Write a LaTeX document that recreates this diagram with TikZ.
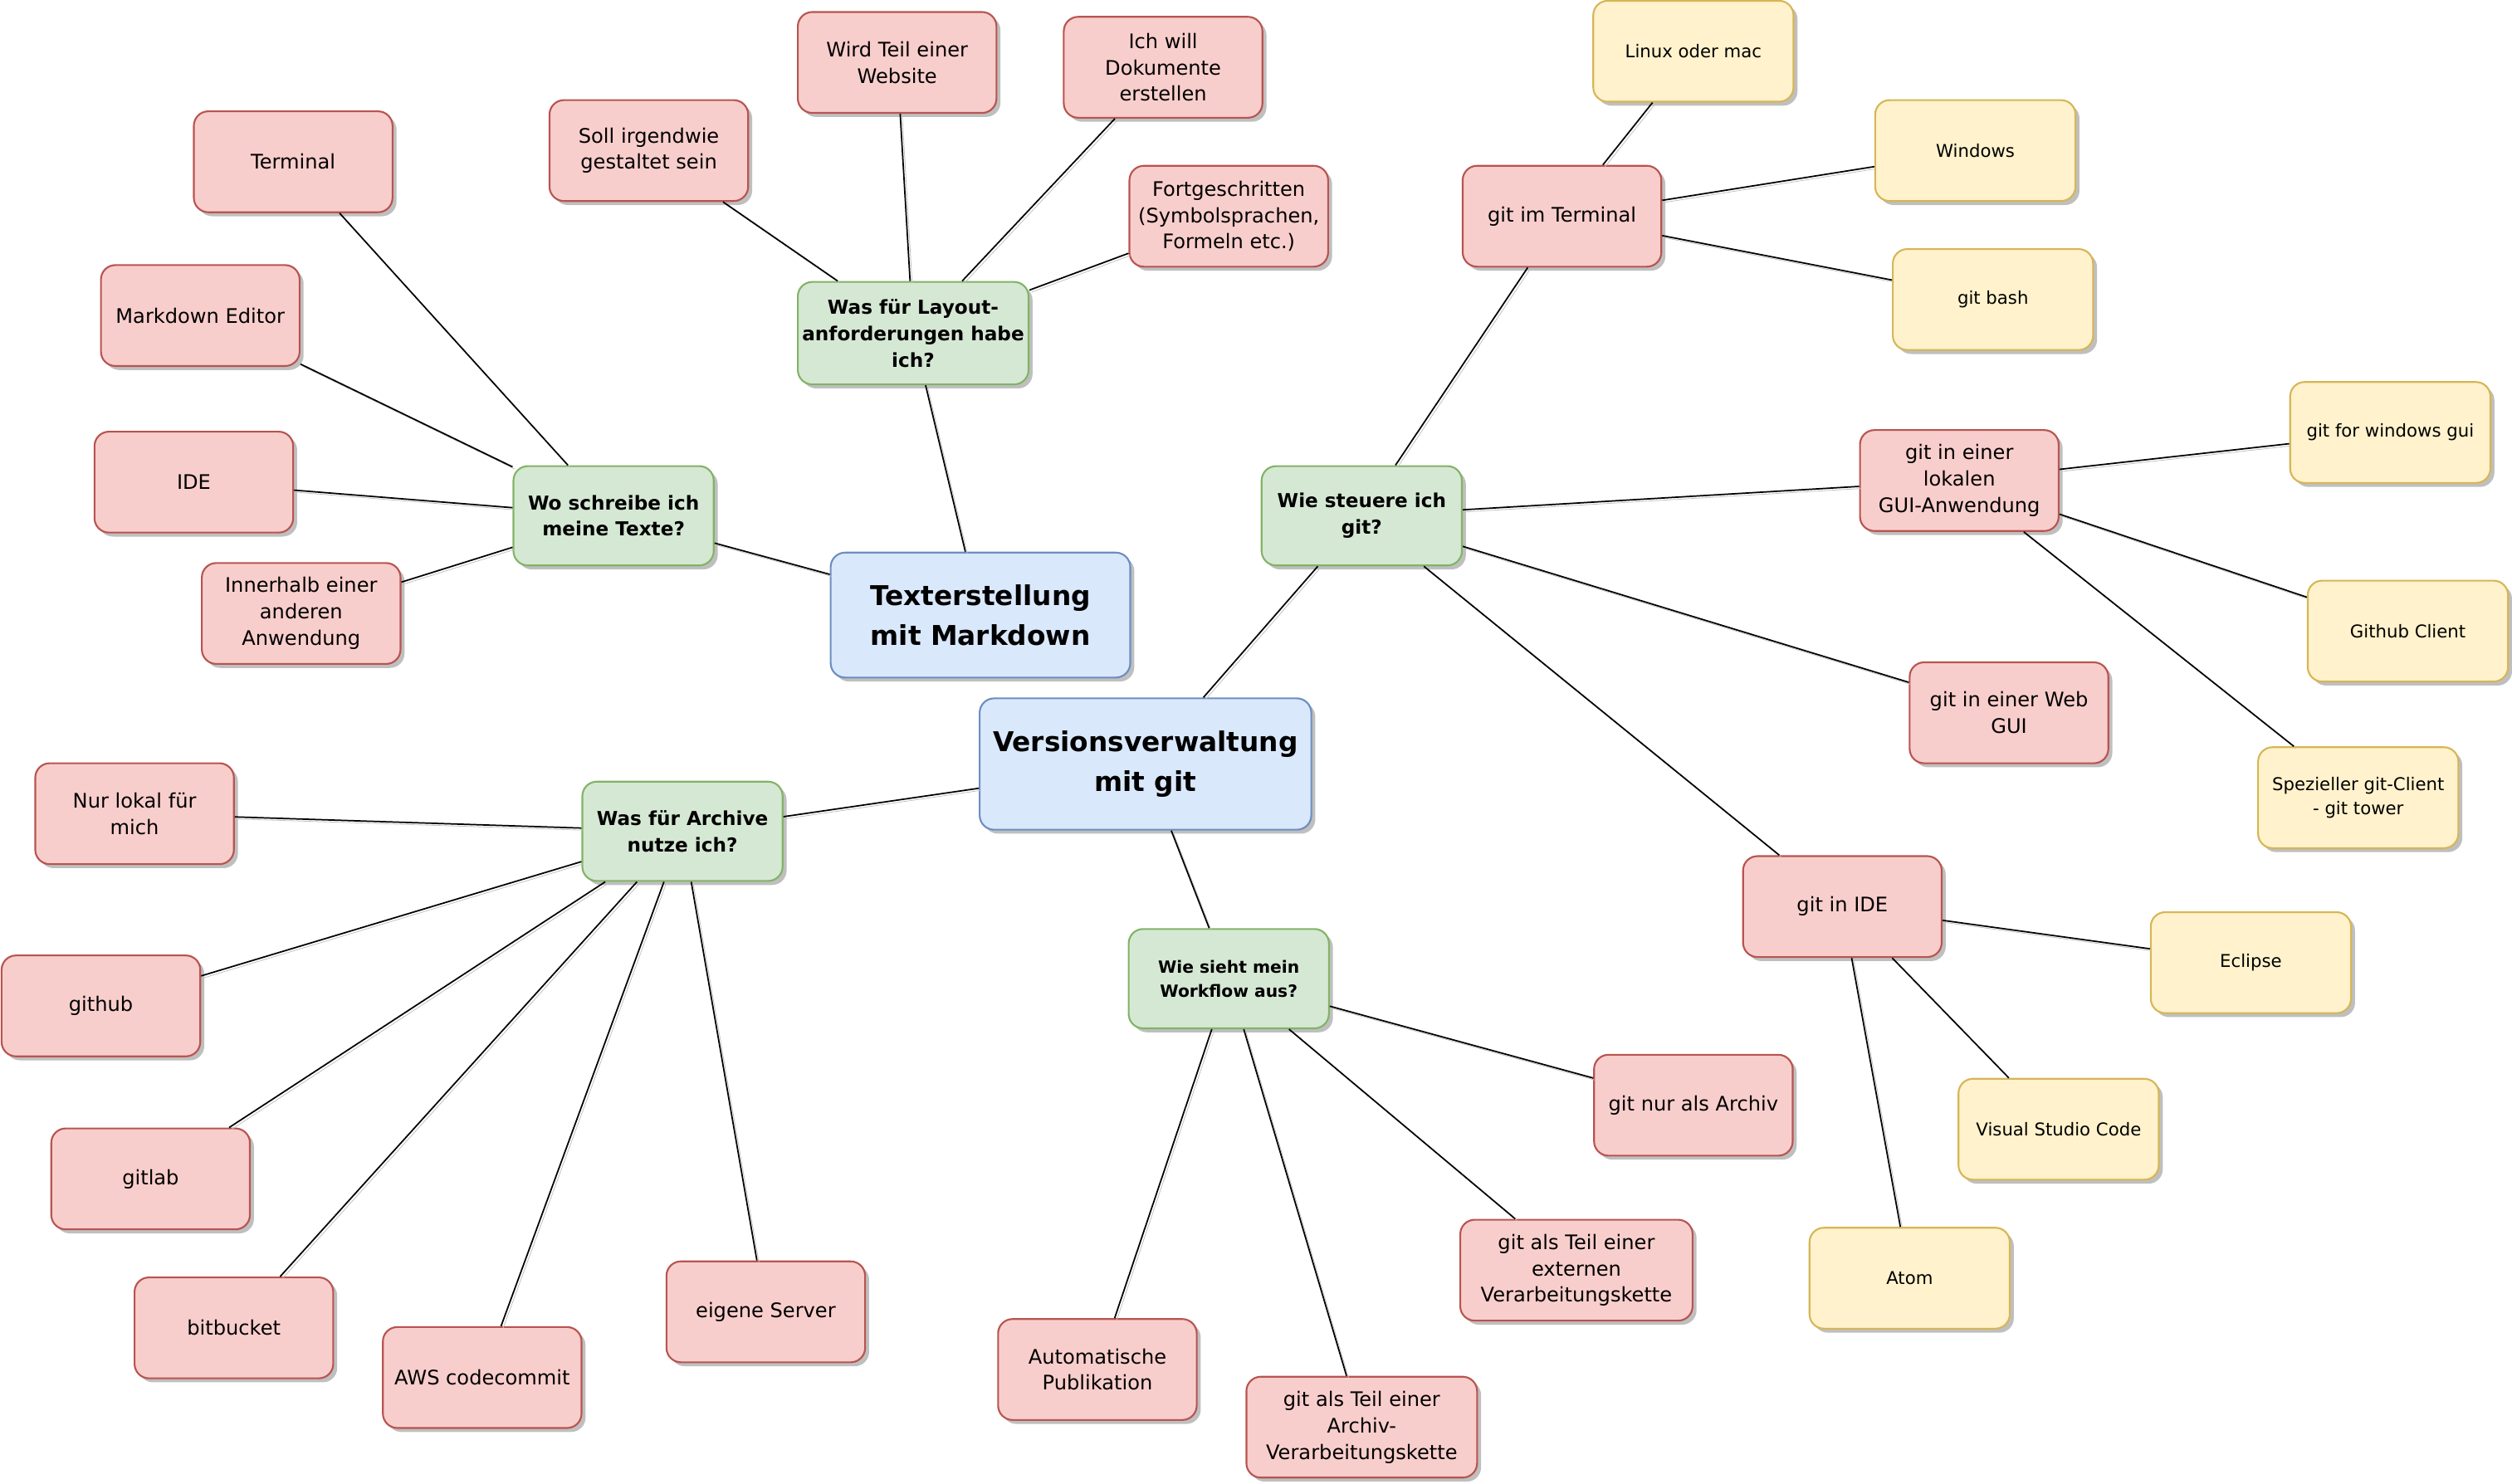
\documentclass[tikz,border=0pt]{standalone}
\usepackage{fontspec}
\setmainfont{DejaVu Sans}
\usetikzlibrary{shadows}

\definecolor{bluefill}{HTML}{DAE8FC}
\definecolor{bluedraw}{HTML}{6C8EBF}
\definecolor{greenfill}{HTML}{D5E8D4}
\definecolor{greendraw}{HTML}{82B366}
\definecolor{redfill}{HTML}{F8CECC}
\definecolor{reddraw}{HTML}{B85450}
\definecolor{yellowfill}{HTML}{FFF2CC}
\definecolor{yellowdraw}{HTML}{D6B656}

\begin{document}
\begin{tikzpicture}[x=1pt, y=-1pt,
  box/.style={draw, rounded corners=9pt, line width=1.1pt, align=center, inner sep=1.5pt,
    drop shadow={shadow xshift=2.5pt, shadow yshift=-2.5pt, fill=black!25, opacity=1}},
  topic/.style={box, fill=bluefill, draw=bluedraw, minimum width=187pt, minimum height=78pt,
    font=\fontsize{17}{25}\selectfont\bfseries},
  ask/.style={box, fill=greenfill, draw=greendraw, minimum width=125pt, minimum height=62pt,
    font=\fontsize{12}{16.5}\selectfont\bfseries},
  pick/.style={box, fill=redfill, draw=reddraw, minimum width=124pt, minimum height=63pt,
    font=\fontsize{12.5}{16.5}\selectfont},
  tool/.style={box, fill=yellowfill, draw=yellowdraw, minimum width=125pt, minimum height=63pt,
    font=\fontsize{11}{15}\selectfont},
  link/.style={line width=0.9pt,
    preaction={draw=black!25, transform canvas={xshift=1.3pt, yshift=-1.3pt}}}]
  \useasboundingbox (0,0) rectangle (1568,926);
  % 가운데 두 주제
  \node[topic] (tm) at (612,384) {Texterstellung\\mit Markdown};
  \node[topic, minimum width=207pt, minimum height=82pt] (vg) at (715,477) {Versionsverwaltung\\mit git};
  % 질문 — 초록
  \node[ask, minimum width=144pt, minimum height=64pt] (layout) at (570,208) {Was für Layout-\\anforderungen habe\\ich?};
  \node[ask] (schreibe) at (383,322) {Wo schreibe ich\\meine Texte?};
  \node[ask] (steuere) at (850,322) {Wie steuere ich\\git?};
  \node[ask] (archive) at (426,519) {Was für Archive\\nutze ich?};
  \node[ask, font=\fontsize{10.5}{15}\selectfont\bfseries] (workflow) at (767,611) {Wie sieht mein\\Workflow aus?};
  % 답 — 빨강
  \node[pick] (terminal) at (183,101) {Terminal};
  \node[pick] (mdeditor) at (125,197) {Markdown Editor};
  \node[pick] (ide) at (121,301) {IDE};
  \node[pick] (innerhalb) at (188,383) {Innerhalb einer\\anderen\\Anwendung};
  \node[pick] (gestaltet) at (405,94) {Soll irgendwie\\gestaltet sein};
  \node[pick] (website) at (560,39) {Wird Teil einer\\Website};
  \node[pick] (dokumente) at (726,42) {Ich will\\Dokumente\\erstellen};
  \node[pick] (fortgeschritten) at (767,135) {Fortgeschritten\\(Symbolsprachen,\\Formeln etc.)};
  \node[pick] (gitterm) at (975,135) {git im Terminal};
  \node[pick] (gitgui) at (1223,300) {git in einer\\lokalen\\GUI-Anwendung};
  \node[pick] (gitweb) at (1254,445) {git in einer Web\\GUI};
  \node[pick] (gitide) at (1150,566) {git in IDE};
  \node[pick] (lokal) at (84,508) {Nur lokal für\\mich};
  \node[pick] (github) at (63,628) {github};
  \node[pick] (gitlab) at (94,736) {gitlab};
  \node[pick] (bitbucket) at (146,829) {bitbucket};
  \node[pick] (aws) at (301,860) {AWS codecommit};
  \node[pick] (server) at (478,819) {eigene Server};
  \node[pick] (nurarchiv) at (1057,690) {git nur als Archiv};
  \node[pick, minimum width=145pt] (extern) at (984,793) {git als Teil einer\\externen\\Verarbeitungskette};
  \node[pick] (publikation) at (685,855) {Automatische\\Publikation};
  \node[pick, minimum width=144pt] (archivkette) at (850,891) {git als Teil einer\\Archiv-\\Verarbeitungskette};
  % 도구 — 노랑
  \node[tool] (linux) at (1057,32) {Linux oder mac};
  \node[tool] (windows) at (1233,94) {Windows};
  \node[tool] (gitbash) at (1244,187) {git bash};
  \node[tool] (gfwgui) at (1492,270) {git for windows gui};
  \node[tool] (ghclient) at (1503,394) {Github Client};
  \node[tool] (tower) at (1472,498) {Spezieller git-Client\\- git tower};
  \node[tool] (eclipse) at (1405,601) {Eclipse};
  \node[tool] (vscode) at (1285,705) {Visual Studio Code};
  \node[tool] (atom) at (1192,798) {Atom};
  % 가지 — 중심끼리
  \foreach \a/\b in {tm/layout, tm/schreibe, vg/steuere, vg/archive, vg/workflow,
      layout/gestaltet, layout/website, layout/dokumente, layout/fortgeschritten,
      schreibe/terminal, schreibe/mdeditor, schreibe/ide, schreibe/innerhalb,
      steuere/gitterm, steuere/gitgui, steuere/gitweb, steuere/gitide,
      gitterm/linux, gitterm/windows, gitterm/gitbash,
      gitgui/gfwgui, gitgui/ghclient, gitgui/tower,
      gitide/eclipse, gitide/vscode, gitide/atom,
      archive/lokal, archive/github, archive/gitlab, archive/bitbucket, archive/aws, archive/server,
      workflow/nurarchiv, workflow/extern, workflow/publikation, workflow/archivkette}
    { \draw[link] (\a) -- (\b); }
\end{tikzpicture}
\end{document}
